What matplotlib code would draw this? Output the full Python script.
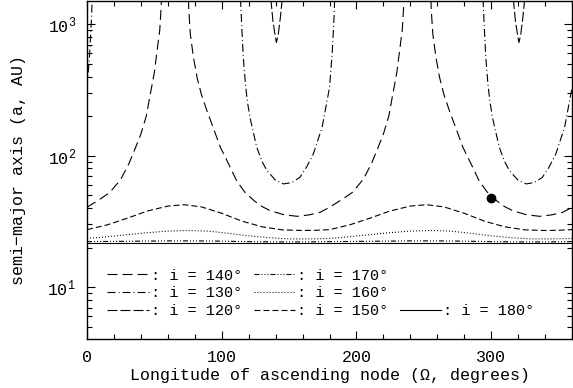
"""
Semi-major axis vs longitude of ascending node for several inclinations.
Writes out.png
"""
import matplotlib
matplotlib.use("Agg")
import matplotlib.pyplot as plt
from matplotlib.ticker import MultipleLocator, LogLocator

plt.rcParams["font.family"] = ["Liberation Mono", "DejaVu Sans Mono"]
plt.rcParams["lines.scale_dashes"] = False

# ---- data ------------------------------------------------------------------
node_140 = [0, 10, 17, 25, 31, 36, 40, 44, 47, 50, 52, 54, 55, 56.5,
            74.5, 75.5, 76.7, 79, 81.7, 85, 89, 94, 99, 105, 111, 117, 124,
            130, 136, 146, 156, 165, 173,
            180, 190, 197, 205, 211, 216, 220, 224, 227, 230, 232, 234, 235, 236.5,
            254.5, 255.5, 256.7, 259, 261.7, 265, 269, 274, 279, 285, 291, 297, 304,
            310, 316, 326, 336, 345, 353, 360]
a_140 = [40.5, 47, 52.6, 66, 86.5, 115, 146, 200, 294, 430, 627, 900, 1337, 3000,
         3000, 1300, 840, 560, 394, 290, 220, 160, 116, 87, 64.6, 53, 45.5,
         41, 38.2, 35.6, 34.6, 35.5, 37.1,
         40.5, 47, 52.6, 66, 86.5, 115, 146, 200, 294, 430, 627, 900, 1337, 3000,
         3000, 1300, 840, 560, 394, 290, 220, 160, 116, 87, 64.6, 53, 45.5,
         41, 38.2, 35.6, 34.6, 35.5, 37.1, 40.5]

node_130 = [0, 2, 3.5, 4.5,
            113, 114, 115, 116, 117.6, 119, 121, 123.5, 126, 130, 133.6, 140, 146,
            152, 158, 163, 168, 171, 174.5, 177, 178.2, 180, 182, 183.5, 184.5,
            293, 294, 295, 296, 297.6, 299, 301, 303.5, 306, 310, 313.6, 320, 326,
            332, 338, 343, 348, 351, 354.5, 357, 358.2, 360]
a_130 = [330, 600, 1200, 3000,
         3000, 1500, 900, 560, 350, 260, 195, 150, 116, 90, 77, 65, 61,
         62.5, 68.4, 82, 103, 128, 164, 225, 262, 330, 600, 1200, 3000,
         3000, 1500, 900, 560, 350, 260, 195, 150, 116, 90, 77, 65, 61,
         62.5, 68.4, 82, 103, 128, 164, 225, 262, 330]

node_120 = [135.8, 136.6, 138, 139.5, 140.6, 142, 143.5, 144.8, 145.6,
            315.8, 316.6, 318, 319.5, 320.6, 322, 323.5, 324.8, 325.6]
a_120 = [3000, 1500, 1060, 840, 725, 840, 1120, 1500, 3000,
         3000, 1500, 1060, 840, 725, 840, 1120, 1500, 3000]

node_150 = [0, 15, 30, 45, 60, 72, 85, 100, 115, 130, 145, 160, 170,
            180, 195, 210, 225, 240, 252, 265, 280, 295, 310, 325, 340, 350, 360]
a_150 = [27.4, 29.8, 33.5, 38.0, 41.4, 42.4, 40.8, 36.5, 31.8, 28.8, 27.3, 27.0, 27.1,
         27.4, 29.8, 33.5, 38.0, 41.4, 42.4, 40.8, 36.5, 31.8, 28.8, 27.3, 27.0, 27.1, 27.4]

node_160 = [0, 15, 30, 45, 60, 75, 90, 105, 120, 135, 150, 165,
            180, 195, 210, 225, 240, 255, 270, 285, 300, 315, 330, 345, 360]
a_160 = [23.5, 24.2, 25.1, 26.0, 26.7, 27.0, 26.7, 25.7, 24.6, 23.8, 23.3, 23.3,
         23.5, 24.2, 25.1, 26.0, 26.7, 27.0, 26.7, 25.7, 24.6, 23.8, 23.3, 23.3, 23.5]

node_170 = [0, 20, 40, 60, 80, 100, 120, 140, 160,
            180, 200, 220, 240, 260, 280, 300, 320, 340, 360]
a_170 = [22.2, 22.3, 22.4, 22.5, 22.5, 22.4, 22.2, 22.1, 22.1,
         22.2, 22.3, 22.4, 22.5, 22.5, 22.4, 22.2, 22.1, 22.1, 22.2]

node_180 = [0, 360]
a_180 = [21.6, 21.6]

dot_node = [300]
dot_a = [47.8]

# dash patterns in points (1 px = 0.72 pt at dpi 100)
PX = 0.72
styles = {
    140: (0, (10 * PX, 5 * PX)),
    130: (0, (8 * PX, 3 * PX, 1 * PX, 3 * PX)),
    120: (0, (10 * PX, 3 * PX)),
    170: (0, (5 * PX, 2 * PX, 1 * PX, 2 * PX, 1 * PX, 2 * PX, 1 * PX, 2 * PX)),
    160: (0, (1 * PX, 2 * PX)),
    150: (0, (6 * PX, 3 * PX)),
    180: "-",
}
curves = {
    140: (node_140, a_140), 130: (node_130, a_130), 120: (node_120, a_120),
    170: (node_170, a_170), 160: (node_160, a_160), 150: (node_150, a_150),
    180: (node_180, a_180),
}

# ---- chart -------------------------------------------------------------------
fig = plt.figure(figsize=(5.73, 3.88), dpi=100)
ax = fig.add_axes([87 / 573, 1 - 339 / 388, 485 / 573, 338 / 388])

handles = {}
for inc, (x, y) in curves.items():
    (ln,) = ax.plot(x, y, color="black", lw=0.8, ls=styles[inc],
                    label=f": i = {inc}°")
    handles[inc] = ln
ax.plot(dot_node, dot_a, "o", color="black", ms=6)

ax.set_yscale("log")
ax.set_xlim(0, 360)
ax.set_ylim(4.04, 1500)
ax.xaxis.set_major_locator(MultipleLocator(100))
ax.xaxis.set_minor_locator(MultipleLocator(20))
ax.yaxis.set_minor_locator(LogLocator(base=10, subs=range(2, 10)))
ax.tick_params(which="both", direction="in", top=True, right=True,
               labelsize=12, width=0.8, pad=8)
ax.tick_params(which="major", length=6)
ax.tick_params(which="minor", length=3.5)
for sp in ax.spines.values():
    sp.set_linewidth(1.0)

ax.set_xlabel("Longitude of ascending node (Ω, degrees)", fontsize=12, labelpad=2)
ax.set_ylabel("semi\u2212major axis (a, AU)", fontsize=12, labelpad=15)

blank = plt.Line2D([], [], color="none")
order = [handles[140], handles[130], handles[120],
         handles[170], handles[160], handles[150],
         blank, blank, handles[180]]
labels = [h.get_label() if h is not blank else "" for h in order]
ax.legend(order, labels, ncol=3, loc="lower left", bbox_to_anchor=(0.02, 0.03),
          frameon=False, fontsize=11, handlelength=2.7, handletextpad=0.15,
          columnspacing=0.75, labelspacing=0.25, borderpad=0.2)

fig.savefig("out.png", dpi=100)
